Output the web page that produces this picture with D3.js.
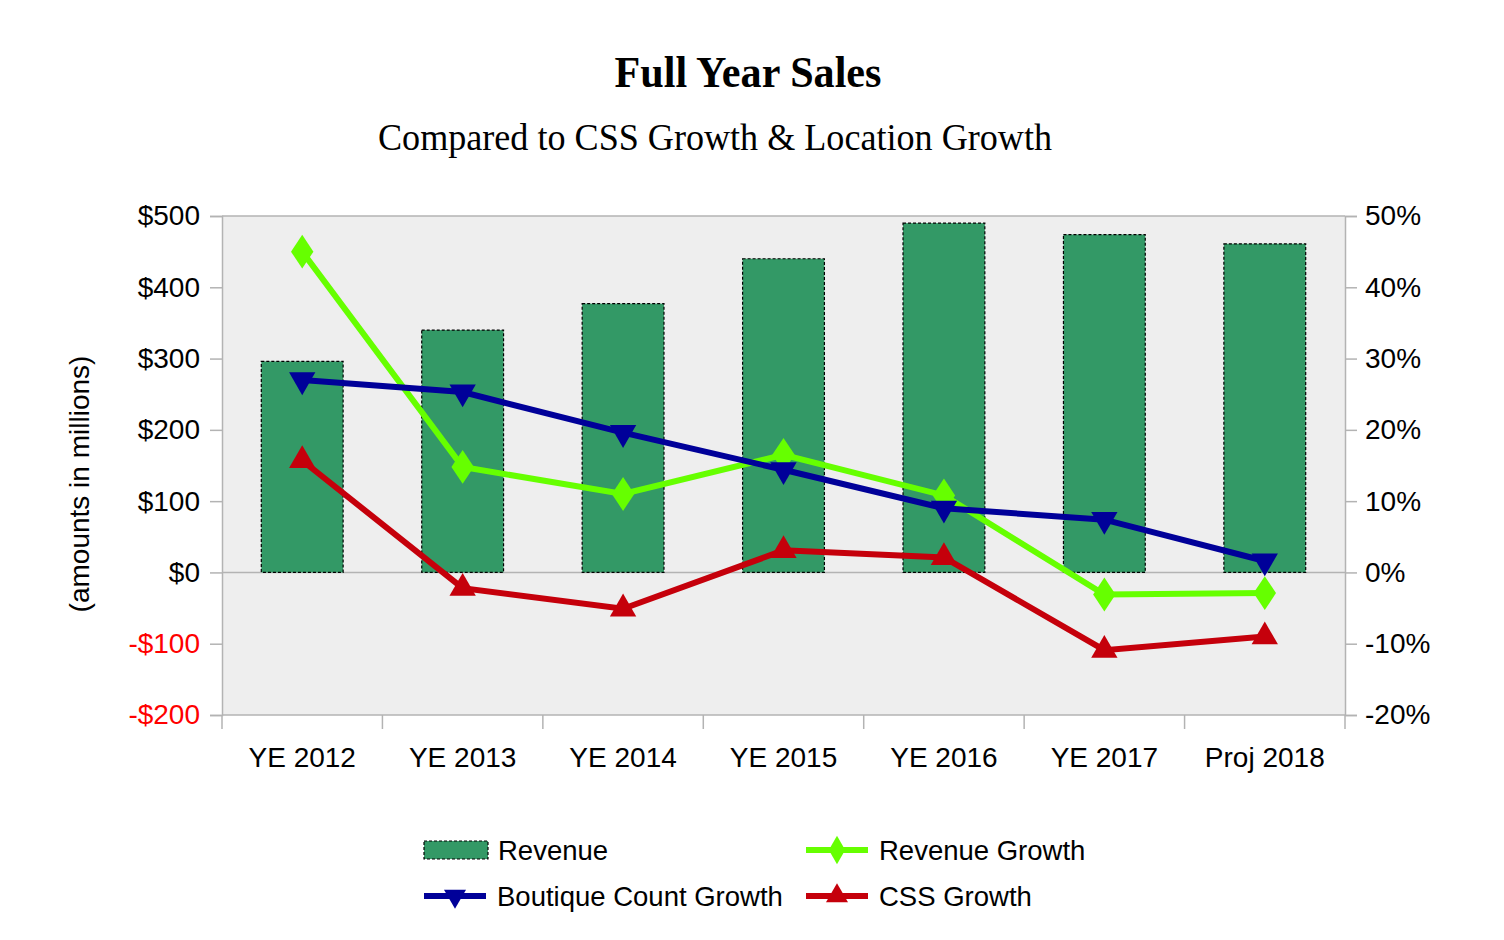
<!DOCTYPE html>
<html>
<head>
<meta charset="utf-8">
<script src="https://cdn.jsdelivr.net/npm/d3@7"></script>
<style>
  body { margin: 0; background: #fff; }
  text { font-family: "Liberation Sans", Arial, sans-serif; }
</style>
</head>
<body>
<svg id="chart" width="1504" height="940"></svg>
<script>
// values
const categories = ['YE 2012', 'YE 2013', 'YE 2014', 'YE 2015', 'YE 2016', 'YE 2017', 'Proj 2018'];
const revenue = [296, 340, 377, 440, 490, 474, 461];
const revenueGrowth = [0.45, 0.148, 0.11, 0.165, 0.108, -0.031, -0.029];
const boutiqueGrowth = [0.27, 0.253, 0.196, 0.144, 0.09, 0.074, 0.016];
const cssGrowth = [0.157, -0.022, -0.051, 0.031, 0.021, -0.109, -0.09];
const leftTicks = [-200, -100, 0, 100, 200, 300, 400, 500];
const rightTicks = [-0.2, -0.1, 0, 0.1, 0.2, 0.3, 0.4, 0.5];

const plot = { left: 222, right: 1345, top: 216, bottom: 715 };
const axisGrey = '#b3b3b3';

const svg = d3.select('#chart');

const x = d3.scaleBand().domain(categories).range([plot.left, plot.right]).padding(0);
const yL = d3.scaleLinear().domain([-200, 500]).range([plot.bottom, plot.top]);
const yR = d3.scaleLinear().domain([-0.2, 0.5]).range([plot.bottom, plot.top]);
const cx = (c) => x(c) + x.bandwidth() / 2;

// plot background
svg.append('rect')
  .attr('x', plot.left).attr('y', plot.top)
  .attr('width', plot.right - plot.left).attr('height', plot.bottom - plot.top)
  .attr('fill', '#eeeeee');
svg.append('line')
  .attr('x1', plot.left).attr('x2', plot.right)
  .attr('y1', plot.top).attr('y2', plot.top)
  .attr('stroke', axisGrey).attr('stroke-width', 1.5);

// zero line
svg.append('line')
  .attr('x1', plot.left).attr('x2', plot.right)
  .attr('y1', yL(0)).attr('y2', yL(0))
  .attr('stroke', axisGrey).attr('stroke-width', 1.5);

// left axis
const gL = svg.append('g').attr('transform', `translate(${plot.left},0)`)
  .call(d3.axisLeft(yL).tickValues(leftTicks).tickSize(12).tickPadding(10)
    .tickFormat((d) => (d < 0 ? '-$' + Math.abs(d) : '$' + d)));
gL.select('.domain').attr('stroke', axisGrey).attr('stroke-width', 1.5);
gL.selectAll('.tick line').attr('stroke', axisGrey).attr('stroke-width', 1.5);
gL.selectAll('.tick text')
  .attr('font-size', 28).attr('font-family', '"Liberation Sans", Arial, sans-serif')
  .attr('fill', (d) => (d < 0 ? '#ff0000' : '#000'));

// right axis (plain hyphen for negatives, like the original)
const gR = svg.append('g').attr('transform', `translate(${plot.right},0)`)
  .call(d3.axisRight(yR).tickValues(rightTicks).tickSize(12).tickPadding(8)
    .tickFormat((d) => (d < 0 ? '-' : '') + Math.round(Math.abs(d) * 100) + '%'));
gR.select('.domain').attr('stroke', axisGrey).attr('stroke-width', 1.5);
gR.selectAll('.tick line').attr('stroke', axisGrey).attr('stroke-width', 1.5);
gR.selectAll('.tick text')
  .attr('font-size', 28).attr('font-family', '"Liberation Sans", Arial, sans-serif')
  .attr('fill', '#000');

// bottom axis: ticks on category boundaries
const gB = svg.append('g').attr('transform', `translate(0,${plot.bottom})`);
gB.append('line')
  .attr('x1', plot.left).attr('x2', plot.right)
  .attr('stroke', axisGrey).attr('stroke-width', 1.5);
gB.selectAll('line.bound')
  .data(categories.map((c) => x(c)).concat([plot.right]))
  .join('line').attr('class', 'bound')
  .attr('x1', (d) => d).attr('x2', (d) => d)
  .attr('y1', 0).attr('y2', 14)
  .attr('stroke', axisGrey).attr('stroke-width', 1.5);
gB.selectAll('text.cat')
  .data(categories)
  .join('text').attr('class', 'cat')
  .attr('x', cx).attr('y', 52)
  .attr('text-anchor', 'middle').attr('font-size', 28)
  .text((d) => d);

// bars
const barW = x.bandwidth() * 0.51;
svg.append('g').selectAll('rect')
  .data(categories)
  .join('rect')
  .attr('x', (d) => cx(d) - barW / 2)
  .attr('width', barW)
  .attr('y', (d, i) => yL(revenue[i]))
  .attr('height', (d, i) => yL(0) - yL(revenue[i]))
  .attr('fill', '#339966')
  .attr('stroke', '#000').attr('stroke-width', 1.2).attr('stroke-dasharray', '3,2');

// line series
const series = [
  { name: 'Revenue Growth', values: revenueGrowth, color: '#66ff00', symbol: d3.symbolDiamond, rot: 0, size: 330 },
  { name: 'Boutique Count Growth', values: boutiqueGrowth, color: '#000099', symbol: d3.symbolTriangle, rot: 180, size: 300 },
  { name: 'CSS Growth', values: cssGrowth, color: '#c5000b', symbol: d3.symbolTriangle, rot: 0, size: 300 },
];
const line = d3.line().x((d) => cx(d.c)).y((d) => yR(d.v));

series.forEach((s) => {
  const pts = categories.map((c, i) => ({ c, v: s.values[i] }));
  const g = svg.append('g');
  g.append('path').datum(pts)
    .attr('d', line).attr('fill', 'none')
    .attr('stroke', s.color).attr('stroke-width', 6).attr('stroke-linejoin', 'miter');
  g.selectAll('path.mk').data(pts).join('path').attr('class', 'mk')
    .attr('d', d3.symbol().type(s.symbol).size(s.size)())
    .attr('transform', (d) => `translate(${cx(d.c)},${yR(d.v)}) rotate(${s.rot}) ${s.symbol === d3.symbolDiamond ? 'scale(1.15,1)' : ''}`)
    .attr('fill', s.color);
});

// titles
svg.append('text')
  .attr('x', 748).attr('y', 87).attr('text-anchor', 'middle')
  .attr('font-weight', 'bold').attr('font-size', 44)
  .attr('textLength', 267).attr('lengthAdjust', 'spacingAndGlyphs')
  .style('font-family', '"Liberation Serif", "Times New Roman", serif')
  .text('Full Year Sales');
svg.append('text')
  .attr('x', 715).attr('y', 150).attr('text-anchor', 'middle')
  .attr('font-size', 38)
  .attr('textLength', 674).attr('lengthAdjust', 'spacingAndGlyphs')
  .style('font-family', '"Liberation Serif", "Times New Roman", serif')
  .text('Compared to CSS Growth & Location Growth');

// left axis title
svg.append('text')
  .attr('transform', 'translate(89,484) rotate(-90)')
  .attr('text-anchor', 'middle').attr('font-size', 28)
  .text('(amounts in millions)');

// legend
const legend = svg.append('g');
const legendItems = [
  { name: 'Revenue', kind: 'bar', x: 424, y: 850 },
  { name: 'Revenue Growth', kind: 'line', s: series[0], x: 806, y: 850 },
  { name: 'Boutique Count Growth', kind: 'line', s: series[1], x: 424, y: 896 },
  { name: 'CSS Growth', kind: 'line', s: series[2], x: 806, y: 896 },
];
legendItems.forEach((it) => {
  const g = legend.append('g').attr('transform', `translate(${it.x},${it.y})`);
  if (it.kind === 'bar') {
    g.append('rect').attr('x', 0).attr('y', -9).attr('width', 64).attr('height', 18)
      .attr('fill', '#339966').attr('stroke', '#000').attr('stroke-width', 1.2).attr('stroke-dasharray', '3,2');
  } else {
    g.append('line').attr('x1', 0).attr('x2', 62).attr('stroke', it.s.color).attr('stroke-width', 6);
    g.append('path').attr('d', d3.symbol().type(it.s.symbol).size(it.s.size * 0.7)())
      .attr('transform', `translate(31,0) rotate(${it.s.rot})`)
      .attr('fill', it.s.color);
  }
  g.append('text').attr('x', it.kind === 'bar' ? 74 : 73).attr('y', 10)
    .attr('font-size', 27.5).text(it.name);
});
</script>
</body>
</html>
